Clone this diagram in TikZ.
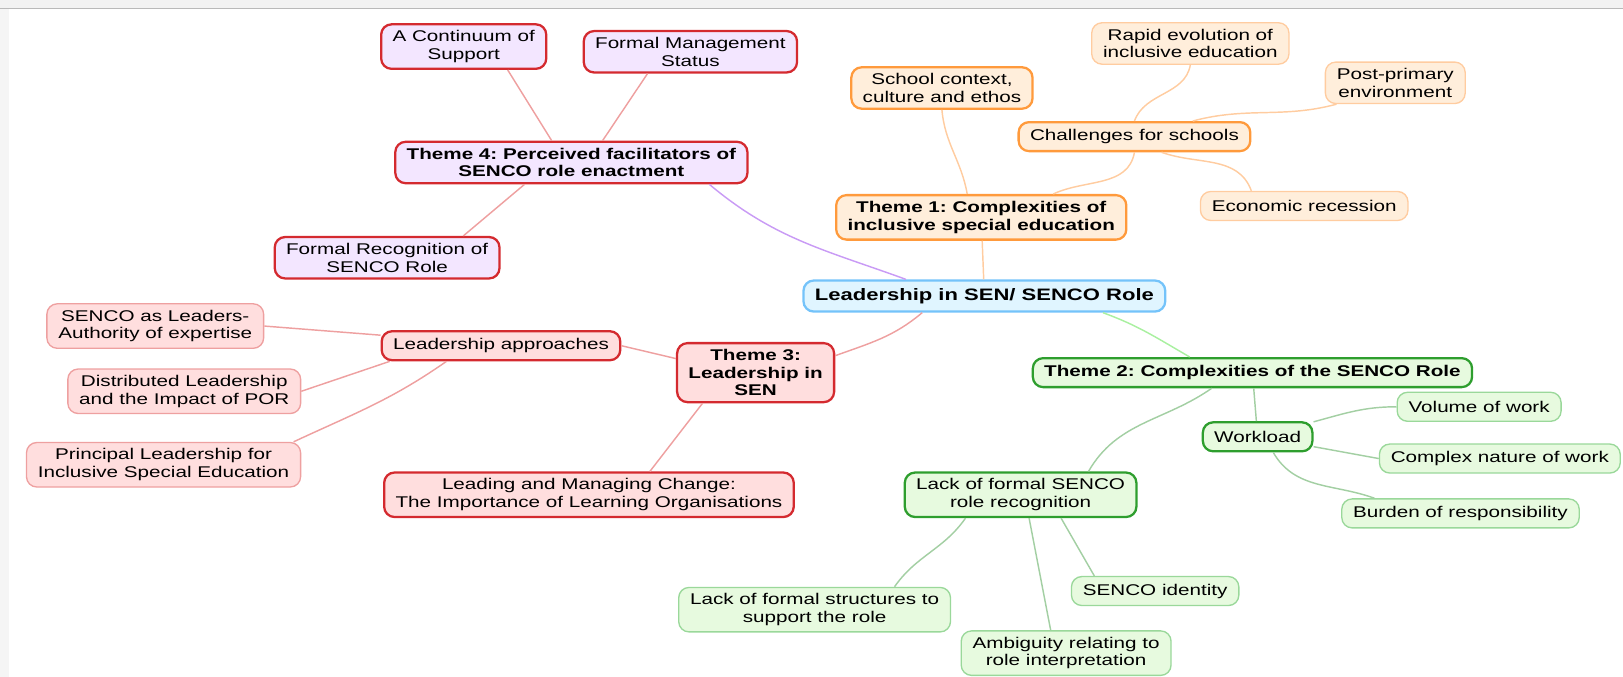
\documentclass[tikz,border=0pt]{standalone}
\usepackage{fontspec}
\setmainfont{Liberation Sans}[FakeStretch=1.33]
\usetikzlibrary{positioning}
\frenchspacing

\definecolor{redline}{HTML}{D42A2F}
\definecolor{redsoft}{HTML}{EEA0A0}
\definecolor{lilacfill}{HTML}{F3E6FF}
\definecolor{pinkfill}{HTML}{FFDEDE}
\definecolor{orangeline}{HTML}{FF9A3C}
\definecolor{orangesoft}{HTML}{FFCCA0}
\definecolor{peachfill}{HTML}{FFEEDB}
\definecolor{greenline}{HTML}{2E9E2E}
\definecolor{greensoft}{HTML}{9AD89A}
\definecolor{greenlink}{HTML}{A3CFA3}
\definecolor{mintfill}{HTML}{E7FADF}
\definecolor{blueline}{HTML}{74C3FA}
\definecolor{bluefill}{HTML}{E0F5FF}
\definecolor{purplelink}{HTML}{C99BF5}
\definecolor{limelink}{HTML}{A9F0A0}

\tikzset{
  box/.style={rounded corners=10pt, align=center, inner xsep=11pt, inner ysep=6pt,
    minimum height=28pt, font=\fontsize{15}{17}\selectfont},
  heavy/.style={box, line width=2.2pt},
  light/.style={box, line width=1.3pt},
  bold/.style={font=\fontsize{15}{17}\selectfont\bfseries},
  rootbox/.style={heavy, draw=blueline, fill=bluefill, font=\fontsize{16}{18}\selectfont\bfseries, minimum height=30pt},
  facil/.style={heavy, draw=redline, fill=lilacfill},
  leadmain/.style={heavy, draw=redline, fill=pinkfill},
  leadleaf/.style={light, draw=redsoft, fill=pinkfill},
  compmain/.style={heavy, draw=orangeline, fill=peachfill},
  compleaf/.style={light, draw=orangesoft, fill=peachfill},
  rolemain/.style={heavy, draw=greenline, fill=mintfill},
  roleleaf/.style={light, draw=greensoft, fill=mintfill},
  link/.style={line width=1.4pt}
}

\begin{document}
\begin{tikzpicture}[x=1pt, y=1pt]
  \useasboundingbox (0,0) rectangle (1568,-654);
  \fill[gray!10] (0,0) rectangle (1568,-8);
  \draw[gray!55, line width=1.5pt] (0,-8) -- (1568,-8);
  \fill[gray!8] (0,-9) rectangle (9,-654);

  \node[rootbox] (c) at (951,-286) {Leadership in SEN/ SENCO Role};

  \node[facil, bold] (t4) at (552,-157) {Theme 4: Perceived facilitators of\\SENCO role enactment};
  \node[facil] (cs) at (448,-45) {A Continuum of\\Support};
  \node[facil] (fm) at (667,-50) {Formal Management\\Status};
  \node[facil] (fr) at (374,-249) {Formal Recognition of\\SENCO Role};

  \node[compmain, bold] (t1) at (948,-210) {Theme 1: Complexities of\\inclusive special education};
  \node[compmain] (sc) at (910,-85) {School context,\\culture and ethos};
  \node[compmain] (ch) at (1096,-132) {Challenges for schools};
  \node[compleaf] (re) at (1150,-42) {Rapid evolution of\\inclusive education};
  \node[compleaf] (pp) at (1348,-80) {Post-primary\\environment};
  \node[compleaf] (er) at (1260,-199) {Economic recession};

  \node[leadmain, bold] (t3) at (730,-360) {Theme 3:\\Leadership in\\SEN};
  \node[leadmain] (la) at (484,-334) {Leadership approaches};
  \node[leadleaf] (sl) at (150,-315) {SENCO as Leaders-\\Authority of expertise};
  \node[leadleaf] (dl) at (178,-378) {Distributed Leadership\\and the Impact of POR};
  \node[leadleaf] (pl) at (158,-449) {Principal Leadership for\\Inclusive Special Education};
  \node[leadmain] (lc) at (569,-478) {Leading and Managing Change:\\The Importance of Learning Organisations};

  \node[rolemain, bold] (t2) at (1210,-360) {Theme 2: Complexities of the SENCO Role};
  \node[rolemain] (wl) at (1215,-422) {Workload};
  \node[roleleaf] (vw) at (1429,-393) {Volume of work};
  \node[roleleaf] (cn) at (1449,-443) {Complex nature of work};
  \node[roleleaf] (br) at (1411,-496) {Burden of responsibility};
  \node[rolemain] (lf) at (986,-478) {Lack of formal SENCO\\role recognition};
  \node[roleleaf] (fs) at (787,-589) {Lack of formal structures to\\support the role};
  \node[roleleaf] (si) at (1116,-571) {SENCO identity};
  \node[roleleaf] (am) at (1030,-631) {Ambiguity relating to\\role interpretation};

  \path[link]
  (t4.-9) edge[purplelink, out=-40, in=160] (c.168)
  (t4.-155) edge[redsoft] (fr.16)
  (t4.132) edge[redsoft] (cs.-28)
  (t4.35) edge[redsoft] (fm.-153)
  (c) edge[orangesoft] (t1)
  (t1.121) edge[orangesoft, out=100, in=-85] (sc.south)
  (t1.18) edge[orangesoft, out=25, in=-100] (ch.south)
  (ch.north) edge[orangesoft, out=70, in=-100] (re.south)
  (ch.15) edge[orangesoft, out=15, in=-165] (pp.-160)
  (ch.-30) edge[orangesoft, out=-20, in=110] (er.164)
  (c.-165) edge[redsoft, out=-140, in=20] (t3.12)
  (t3.170) edge[redsoft] (la.east)
  (la.175) edge[redsoft] (sl.east)
  (la.-172) edge[redsoft] (dl.east)
  (la.-164) edge[redsoft, out=-145, in=25] (pl.10)
  (t3.-150) edge[redsoft] (lc.21)
  (c.-8) edge[limelink, out=-20, in=150] (t2.166)
  (t2) edge[greenlink] (wl)
  (t2.-159) edge[greenlink, out=-145, in=60] (lf.19)
  (wl.15) edge[greenlink, out=15, in=180] (vw.west)
  (wl.-10) edge[greenlink] (cn.west)
  (wl.-45) edge[greenlink, out=-60, in=160] (br.170)
  (lf.-157) edge[greenlink, out=-125, in=55] (fs.16)
  (lf.-70) edge[greenlink] (am.124)
  (lf.-30) edge[greenlink] (si.166);
\end{tikzpicture}
\end{document}
